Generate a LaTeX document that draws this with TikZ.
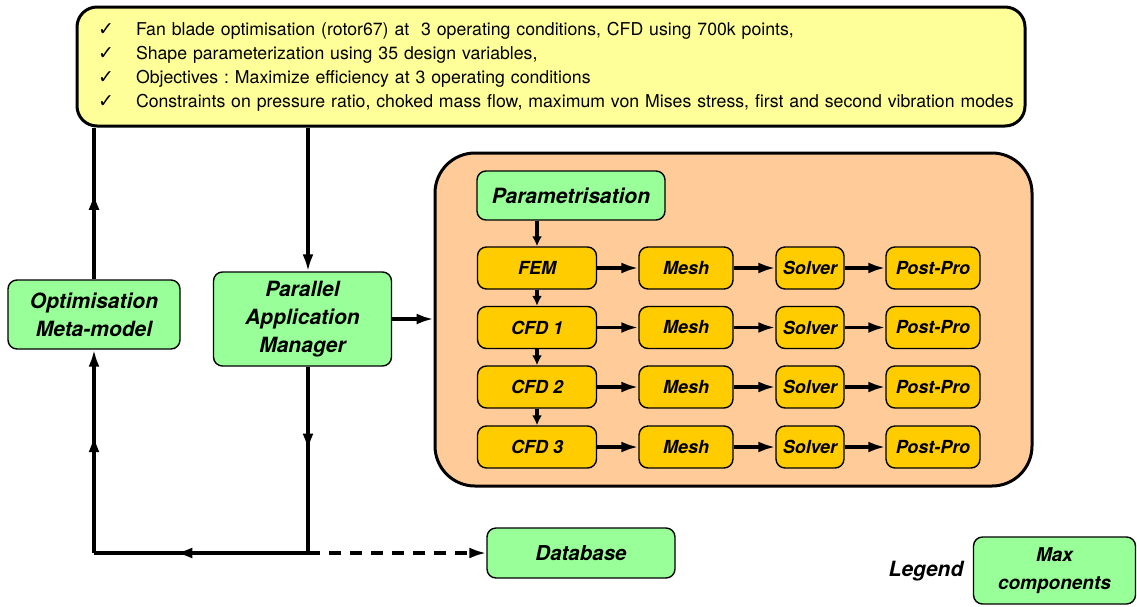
\documentclass[tikz,border=0pt]{standalone}
\usepackage{fontspec}
\setmainfont{TeX Gyre Heros}
\newfontfamily\symfont{DejaVu Sans}
\usetikzlibrary{arrows.meta,decorations.markings}

\definecolor{noteyellow}{HTML}{FFFF99}
\definecolor{compgreen}{HTML}{99FF99}
\definecolor{procorange}{HTML}{FFCC99}
\definecolor{stepgold}{HTML}{FFCC00}

\newcommand{\tick}[1]{\mbox{\hspace*{9pt}\makebox[38pt][l]{\symfont\fontsize{19}{24}\selectfont ✓}#1}}

\begin{document}
\frenchspacing
\begin{tikzpicture}[x=1pt,y=-1pt,
    box/.style={draw,line width=1.4pt,rounded corners=9pt,font=\bfseries\itshape},
    comp/.style={box,fill=compgreen},
    stepbox/.style={box,fill=stepgold,minimum height=42pt,font=\bfseries\itshape\fontsize{18}{20}\selectfont},
    wire/.style={draw,line width=3.2pt},
    arc/.style={wire,-{Latex[length=17pt,width=11pt]}},
    sarc/.style={wire,-{Latex[length=10pt,width=10pt]}},
    midarrow/.style={postaction={decorate},decoration={markings,
        mark=at position #1 with {\arrow{Latex[length=17pt,width=11pt]}}}}]
        \useasboundingbox (0,0) rectangle (1137,606);

        % problem statement
        \node[draw,line width=3pt,rounded corners=20pt,fill=noteyellow,minimum width=948pt,minimum height=119pt,
              text width=924pt,inner xsep=12pt,align=left,font=\fontsize{17.7}{24}\selectfont] (goal) at (551,66.5)
            {\tick{Fan blade optimisation (rotor67) at\ \ 3 operating conditions, CFD using 700k points,}\\
             \tick{Shape parameterization using 35 design variables,}\\
             \tick{Objectives : Maximize efficiency at 3 operating conditions}\\
             \tick{Constraints on pressure ratio, choked mass flow, maximum von Mises stress, first and second vibration modes}};

        % main components
        \node[comp,minimum width=172pt,minimum height=69pt,align=center,font=\bfseries\itshape\fontsize{21}{28}\selectfont] (opt) at (94,314.5) {Optimisation\\Meta-model};
        \node[comp,minimum width=178pt,minimum height=94pt,align=center,font=\bfseries\itshape\fontsize{21}{28}\selectfont] (pam) at (302.5,319) {Parallel\\Application\\Manager};
        \node[draw,line width=3pt,rounded corners=40pt,fill=procorange,minimum width=597pt,minimum height=333pt] (proc) at (733.5,319.5) {};
        \node[comp,minimum width=188pt,minimum height=49pt,font=\bfseries\itshape\fontsize{21}{24}\selectfont] (param) at (571,195.5) {Parametrisation};
        \node[comp,minimum width=188pt,minimum height=50pt,font=\bfseries\itshape\fontsize{20.5}{24}\selectfont] (db) at (581,553) {Database};

        % legend
        \node[font=\bfseries\itshape\fontsize{21}{24}\selectfont] (legtxt) at (926,571) {Legend};
        \node[comp,minimum width=162pt,minimum height=67pt,align=center,font=\bfseries\itshape\fontsize{19}{28}\selectfont] (leg) at (1054.5,570.5) {Max\\components};

        % analysis chains
        \foreach [count=\r] \lab/\y in {FEM/268,CFD 1/327.5,CFD 2/387,CFD 3/447}{
            \node[stepbox,minimum width=119pt] (c\r) at (537,\y) {\lab};
            \node[stepbox,minimum width=94pt] (m\r) at (686,\y) {Mesh};
            \node[stepbox,minimum width=68pt] (s\r) at (810,\y) {Solver};
            \node[stepbox,minimum width=94pt] (p\r) at (933,\y) {Post-Pro};
            \draw[arc] (c\r) -- (m\r);
            \draw[arc] (m\r) -- (s\r);
            \draw[arc] (s\r) -- (p\r);
        }
        \draw[sarc] (param.south -| c1) -- (c1);
        \foreach \r [evaluate=\r as \n using int(\r+1)] in {1,2,3}{
            \draw[sarc] (c\r) -- (c\n);
        }

        % loop
        \coordinate (br) at (308,553);
        \coordinate (bl) at (94,553);
        \draw[arc] (goal.south -| br) -- (pam.north -| br);
        \draw[arc] (pam.east) -- (pam.east -| proc.west);
        \draw[wire,midarrow=0.45] (pam.south -| br) -- (br);
        \draw[wire,midarrow=0.62] (br) -- (bl);
        \draw[arc,midarrow=0.58] (bl) -- (opt.south);
        \draw[wire,midarrow=0.57] (opt.north) -- (opt.north |- goal.south);
        \draw[arc,dashed,dash pattern=on 12pt off 9pt] (br) -- (db.west);
\end{tikzpicture}
\end{document}
